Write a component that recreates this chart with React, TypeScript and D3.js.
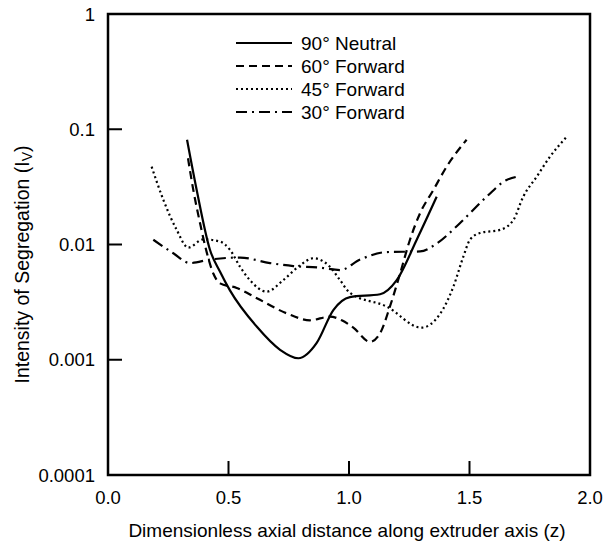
import React from 'react';
import * as d3 from 'd3';

// 90° Neutral
const neutral90X = [0.328, 0.368, 0.423, 0.465, 0.506, 0.617, 0.714, 0.79, 0.866, 0.935, 1.004, 1.129, 1.198, 1.281, 1.364];
const neutral90Y = [0.081, 0.0297, 0.009, 0.0058, 0.0040, 0.00194, 0.00122, 0.00103, 0.0014, 0.0027, 0.0035, 0.0037, 0.0049, 0.011, 0.026];

// 60° Forward
const forward60X = [0.332, 0.354, 0.382, 0.41, 0.437, 0.465, 0.534, 0.62, 0.741, 0.838, 0.921, 0.97, 1.018, 1.087, 1.129, 1.17, 1.212, 1.253, 1.295, 1.35, 1.405, 1.488];
const forward60Y = [0.056, 0.0297, 0.0153, 0.0085, 0.0056, 0.0046, 0.0042, 0.0034, 0.00253, 0.0022, 0.00237, 0.0022, 0.0019, 0.00143, 0.0017, 0.0029, 0.0056, 0.011, 0.0187, 0.0297, 0.0473, 0.081];

// 45° Forward
const forward45X = [0.181, 0.23, 0.285, 0.333, 0.396, 0.465, 0.506, 0.548, 0.589, 0.658, 0.727, 0.797, 0.852, 0.921, 0.963, 1.004, 1.156, 1.3, 1.378, 1.433, 1.474, 1.502, 1.544, 1.627, 1.682, 1.723, 1.779, 1.834, 1.903];
const forward45Y = [0.0473, 0.0243, 0.0134, 0.0094, 0.0111, 0.0106, 0.009, 0.0064, 0.0049, 0.0039, 0.0049, 0.0066, 0.0076, 0.0064, 0.0049, 0.0038, 0.0029, 0.0019, 0.0025, 0.0043, 0.0078, 0.011, 0.0126, 0.0134, 0.0163, 0.026, 0.0388, 0.0578, 0.086];

// 30° Forward
const forward30X = [0.188, 0.271, 0.34, 0.423, 0.548, 0.672, 0.769, 0.88, 0.963, 1.046, 1.156, 1.295, 1.364, 1.46, 1.571, 1.654, 1.696];
const forward30Y = [0.011, 0.0084, 0.0069, 0.0074, 0.0077, 0.0069, 0.0065, 0.0063, 0.0060, 0.0074, 0.0086, 0.0087, 0.0102, 0.0153, 0.026, 0.0363, 0.0387];

const seriesNames = ['90° Neutral', '60° Forward', '45° Forward', '30° Forward'];
const seriesX = [neutral90X, forward60X, forward45X, forward30X];
const seriesY = [neutral90Y, forward60Y, forward45Y, forward30Y];
const dashes = ['none', '8,5', '2,3', '11,5,2,5'];

const xTicks = [0.0, 0.5, 1.0, 1.5, 2.0];
const yTicks = [1, 0.1, 0.01, 0.001, 0.0001];
const yTickLabels = ['1', '0.1', '0.01', '0.001', '0.0001'];

const App = () => {
  const left = 108, right = 590, top = 14, bottom = 475;
  const x = d3.scaleLinear().domain([0, 2]).range([left, right]);
  const y = d3.scaleLog().domain([0.0001, 1]).range([bottom, top]);

  const line = d3.line<[number, number]>()
    .x(d => x(d[0]))
    .y(d => y(d[1]))
    .curve(d3.curveMonotoneX);

  const font = '"Liberation Sans", Arial, sans-serif';

  return (
    <svg width={605} height={546} style={{ position: 'absolute', left: 0, top: 0, background: '#fff' }}
      fontFamily={font}>
      {seriesX.map((xs, i) => (
        <path key={i}
          d={line(xs.map((v, j) => [v, seriesY[i][j]]) as [number, number][]) || ''}
          fill="none" stroke="#000" strokeWidth={2.2}
          strokeDasharray={dashes[i]} />
      ))}

      <rect x={left} y={top} width={right - left} height={bottom - top}
        fill="none" stroke="#000" strokeWidth={2.5} />

      {yTicks.map((t, i) => (
        <g key={i}>
          {i > 0 && i < yTicks.length - 1 &&
            <line x1={left} x2={left + 14} y1={y(t)} y2={y(t)} stroke="#000" strokeWidth={2} />}
          <text x={95} y={y(t)} dy="0.36em" textAnchor="end" fontSize={18.5}>{yTickLabels[i]}</text>
        </g>
      ))}

      {xTicks.map((t, i) => (
        <g key={i}>
          {i > 0 && i < xTicks.length - 1 &&
            <line x1={x(t)} x2={x(t)} y1={bottom} y2={bottom - 14} stroke="#000" strokeWidth={2} />}
          <text x={x(t)} y={504} textAnchor="middle" fontSize={18.5}>{d3.format('.1f')(t)}</text>
        </g>
      ))}

      <text x={(left + right) / 2 - 2} y={537} textAnchor="middle" fontSize={19}>
        Dimensionless axial distance along extruder axis (z)
      </text>
      <text transform={`translate(29,${(top + bottom) / 2 + 20}) rotate(-90)`} textAnchor="middle" fontSize={19.5}>
        Intensity of Segregation (I<tspan fontSize={14} dy={3}>V</tspan><tspan dy={-3}>)</tspan>
      </text>

      {seriesNames.map((name, i) => (
        <g key={i}>
          <line x1={236} x2={292} y1={43 + i * 23} y2={43 + i * 23}
            stroke="#000" strokeWidth={2.2} strokeDasharray={dashes[i]} />
          <text x={301} y={43 + i * 23} dy="0.36em" fontSize={19}>{name}</text>
        </g>
      ))}
    </svg>
  );
};

export default App;
